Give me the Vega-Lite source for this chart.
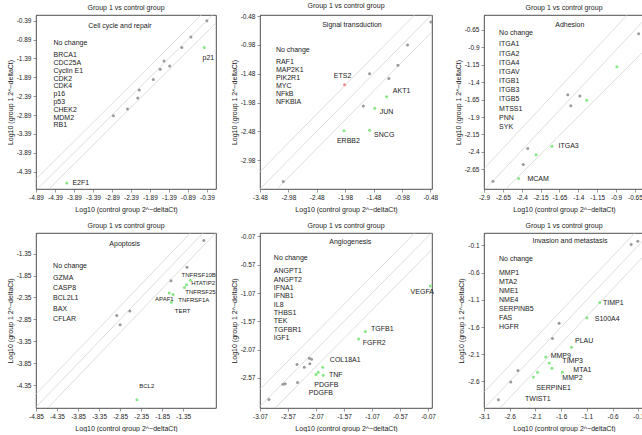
{
"$schema": "https://vega.github.io/schema/vega-lite/v6.json",
"padding": {"left": 5, "top": 1, "right": 0, "bottom": 0},
"config": {
  "font": "Liberation Sans",
  "view": {"stroke": "#222", "strokeWidth": 0.8},
  "axis": {"labelFontSize": 6.5, "titleFontSize": 7, "titleFontWeight": "normal", "tickSize": 3, "labelPadding": 2, "labelOverlap": false, "labelFlush": false, "grid": false, "domain": false, "labelColor": "#222", "titleColor": "#222", "tickColor": "#555", "tickWidth": 0.6},
  "axisX": {"titlePadding": 5, "labelFlush": false},
  "axisY": {"titlePadding": 3},
  "title": {"fontSize": 7, "fontWeight": "normal", "offset": 4, "color": "#222"},
  "text": {"fontSize": 7, "color": "#222"}
},
"datasets": {
  "lines": [
    {"p":1,"k":"u","x":-6,"y":-5.7},{"p":1,"k":"u","x":1,"y":1.3},
    {"p":1,"k":"m","x":-6,"y":-6},{"p":1,"k":"m","x":1,"y":1},
    {"p":1,"k":"l","x":-6,"y":-6.3},{"p":1,"k":"l","x":1,"y":0.7},
    {"p":2,"k":"u","x":-6,"y":-5.7},{"p":2,"k":"u","x":1,"y":1.3},
    {"p":2,"k":"m","x":-6,"y":-6},{"p":2,"k":"m","x":1,"y":1},
    {"p":2,"k":"l","x":-6,"y":-6.3},{"p":2,"k":"l","x":1,"y":0.7},
    {"p":3,"k":"u","x":-3.0,"y":-2.756},{"p":3,"k":"u","x":-0.5,"y":0.144},
    {"p":3,"k":"m","x":-3.0,"y":-3.068},{"p":3,"k":"m","x":-0.5,"y":-0.193},
    {"p":3,"k":"l","x":-3.0,"y":-3.351},{"p":3,"k":"l","x":-0.5,"y":-0.651},
    {"p":4,"k":"u","x":-6,"y":-5.7},{"p":4,"k":"u","x":1,"y":1.3},
    {"p":4,"k":"m","x":-6,"y":-6},{"p":4,"k":"m","x":1,"y":1},
    {"p":4,"k":"l","x":-6,"y":-6.3},{"p":4,"k":"l","x":1,"y":0.7},
    {"p":5,"k":"u","x":-6,"y":-5.7},{"p":5,"k":"u","x":1,"y":1.3},
    {"p":5,"k":"m","x":-6,"y":-6},{"p":5,"k":"m","x":1,"y":1},
    {"p":5,"k":"l","x":-6,"y":-6.3},{"p":5,"k":"l","x":1,"y":0.7},
    {"p":6,"k":"u","x":-6,"y":-5.7},{"p":6,"k":"u","x":1,"y":1.3},
    {"p":6,"k":"m","x":-6,"y":-6},{"p":6,"k":"m","x":1,"y":1},
    {"p":6,"k":"l","x":-6,"y":-6.3},{"p":6,"k":"l","x":1,"y":0.7}
  ],
  "pts": [
    {"p":1,"x":-0.39,"y":-0.39,"s":"n"},{"p":1,"x":-0.81,"y":-0.82,"s":"n"},{"p":1,"x":-1.05,"y":-1.10,"s":"n"},
    {"p":1,"x":-1.52,"y":-1.46,"s":"n"},{"p":1,"x":-1.37,"y":-1.59,"s":"n"},{"p":1,"x":-1.62,"y":-1.68,"s":"n"},
    {"p":1,"x":-1.80,"y":-1.95,"s":"n"},{"p":1,"x":-2.17,"y":-2.23,"s":"n"},{"p":1,"x":-2.21,"y":-2.44,"s":"n"},
    {"p":1,"x":-2.48,"y":-2.73,"s":"n"},{"p":1,"x":-2.85,"y":-2.91,"s":"n"},
    {"p":1,"x":-0.46,"y":-1.10,"s":"d","g":"p21","lx":-0.505,"ly":-1.39},
    {"p":1,"x":-4.08,"y":-4.69,"s":"d","g":"E2F1","lx":-3.93,"ly":-4.69},

    {"p":2,"x":-0.47,"y":-0.58,"s":"n"},{"p":2,"x":-0.88,"y":-0.98,"s":"n"},{"p":2,"x":-1.05,"y":-1.33,"s":"n"},
    {"p":2,"x":-1.55,"y":-1.48,"s":"n"},{"p":2,"x":-1.21,"y":-1.56,"s":"n"},{"p":2,"x":-1.66,"y":-2.04,"s":"n"},
    {"p":2,"x":-3.07,"y":-3.35,"s":"n"},
    {"p":2,"x":-1.99,"y":-1.67,"s":"u","g":"ETS2","lx":-2.18,"ly":-1.52},
    {"p":2,"x":-1.25,"y":-1.88,"s":"d","g":"AKT1","lx":-1.14,"ly":-1.785},
    {"p":2,"x":-1.46,"y":-2.08,"s":"d","g":"JUN","lx":-1.37,"ly":-2.15},
    {"p":2,"x":-2.00,"y":-2.47,"s":"d","g":"ERBB2","lx":-2.125,"ly":-2.64},
    {"p":2,"x":-1.55,"y":-2.46,"s":"d","g":"SNCG","lx":-1.47,"ly":-2.54},

    {"p":3,"x":-0.85,"y":-0.71,"s":"n"},{"p":3,"x":-1.79,"y":-1.58,"s":"n"},{"p":3,"x":-1.63,"y":-1.60,"s":"n"},
    {"p":3,"x":-1.75,"y":-1.74,"s":"n"},{"p":3,"x":-2.32,"y":-2.35,"s":"n"},{"p":3,"x":-2.38,"y":-2.58,"s":"n"},
    {"p":3,"x":-2.78,"y":-2.82,"s":"n"},
    {"p":3,"x":-1.14,"y":-1.18,"s":"d"},{"p":3,"x":-1.54,"y":-1.66,"s":"d"},{"p":3,"x":-2.21,"y":-2.44,"s":"d"},
    {"p":3,"x":-2.00,"y":-2.32,"s":"d","g":"ITGA3","lx":-1.913,"ly":-2.317},
    {"p":3,"x":-2.44,"y":-2.78,"s":"d","g":"MCAM","lx":-2.325,"ly":-2.79},

    {"p":4,"x":-0.86,"y":-1.05,"s":"n"},{"p":4,"x":-1.26,"y":-1.66,"s":"n"},{"p":4,"x":-1.64,"y":-1.97,"s":"n"},
    {"p":4,"x":-2.62,"y":-2.66,"s":"n"},{"p":4,"x":-2.93,"y":-2.76,"s":"n"},{"p":4,"x":-2.85,"y":-2.97,"s":"n"},
    {"p":4,"x":-1.18,"y":-1.96,"s":"d","g":"HTATIP2","lx":-1.16,"ly":-2.018},
    {"p":4,"x":-1.27,"y":-2.06,"s":"d","g":"TNFRSF10B","lx":-1.39,"ly":-1.828},
    {"p":4,"x":-1.32,"y":-2.12,"s":"d","g":"TNFRSF25","lx":-1.30,"ly":-2.23},
    {"p":4,"x":-1.68,"y":-2.25,"s":"d","g":"APAF1","lx":-2.018,"ly":-2.383},
    {"p":4,"x":-1.59,"y":-2.28,"s":"d","g":"TNFRSF1A","lx":-1.466,"ly":-2.398},
    {"p":4,"x":-1.63,"y":-2.46,"s":"d","g":"TERT","lx":-1.55,"ly":-2.65},
    {"p":4,"x":-2.45,"y":-4.68,"s":"d","g":"BCL2","lx":-2.394,"ly":-4.364},

    {"p":5,"x":-2.91,"y":-2.95,"s":"n"},{"p":5,"x":-2.66,"y":-2.68,"s":"n"},{"p":5,"x":-2.62,"y":-2.67,"s":"n"},
    {"p":5,"x":-2.40,"y":-2.65,"s":"n"},{"p":5,"x":-2.41,"y":-2.33,"s":"n"},{"p":5,"x":-2.28,"y":-2.38,"s":"n"},
    {"p":5,"x":-2.19,"y":-2.22,"s":"n"},{"p":5,"x":-2.15,"y":-2.24,"s":"n"},{"p":5,"x":-2.18,"y":-2.32,"s":"n"},
    {"p":5,"x":-1.95,"y":-2.38,"s":"d","g":"COL18A1","lx":-1.823,"ly":-2.257},
    {"p":5,"x":-1.94,"y":-2.52,"s":"d","g":"TNF","lx":-1.84,"ly":-2.523},
    {"p":5,"x":-2.03,"y":-2.47,"s":"d","g":"PDGFB","lx":-2.10,"ly":-2.688},
    {"p":5,"x":-2.07,"y":-2.51,"s":"d","g":"PDGFB","lx":-2.199,"ly":-2.842},
    {"p":5,"x":-1.19,"y":-1.75,"s":"d","g":"TGFB1","lx":-1.088,"ly":-1.70},
    {"p":5,"x":-1.31,"y":-1.88,"s":"d","g":"FGFR2","lx":-1.235,"ly":-1.95},
    {"p":5,"x":-0.03,"y":-0.945,"s":"d","g":"VEGFA","lx":-0.382,"ly":-1.051},

    {"p":6,"x":-0.24,"y":-0.08,"s":"n"},{"p":6,"x":-0.11,"y":-0.02,"s":"n"},{"p":6,"x":-1.64,"y":-1.53,"s":"n"},
    {"p":6,"x":-1.77,"y":-1.81,"s":"n"},{"p":6,"x":-2.44,"y":-2.40,"s":"n"},{"p":6,"x":-2.58,"y":-2.61,"s":"n"},
    {"p":6,"x":-2.82,"y":-2.94,"s":"n"},
    {"p":6,"x":-0.85,"y":-1.15,"s":"d","g":"TIMP1","lx":-0.786,"ly":-1.167},
    {"p":6,"x":-1.10,"y":-1.43,"s":"d","g":"S100A4","lx":-0.948,"ly":-1.448},
    {"p":6,"x":-1.40,"y":-1.97,"s":"d","g":"PLAU","lx":-1.331,"ly":-1.856},
    {"p":6,"x":-1.90,"y":-2.15,"s":"d","g":"MMP9","lx":-1.804,"ly":-2.124},
    {"p":6,"x":-1.83,"y":-2.26,"s":"d","g":"TIMP3","lx":-1.577,"ly":-2.234},
    {"p":6,"x":-1.78,"y":-2.36,"s":"d","g":"MMP2","lx":-1.577,"ly":-2.539},
    {"p":6,"x":-1.58,"y":-2.43,"s":"d","g":"MTA1","lx":-1.363,"ly":-2.387},
    {"p":6,"x":-2.06,"y":-2.43,"s":"d","g":"SERPINE1","lx":-2.083,"ly":-2.722},
    {"p":6,"x":-2.14,"y":-2.52,"s":"d","g":"TWIST1","lx":-2.303,"ly":-2.917}
  ],
  "nc": [
    {"p":1,"i":0,"g":"BRCA1"},{"p":1,"i":1,"g":"CDC25A"},{"p":1,"i":2,"g":"Cyclin E1"},{"p":1,"i":3,"g":"CDK2"},{"p":1,"i":4,"g":"CDK4"},
    {"p":1,"i":5,"g":"p16"},{"p":1,"i":6,"g":"p53"},{"p":1,"i":7,"g":"CHEK2"},{"p":1,"i":8,"g":"MDM2"},{"p":1,"i":9,"g":"RB1"},
    {"p":2,"i":0,"g":"RAF1"},{"p":2,"i":1,"g":"MAP2K1"},{"p":2,"i":2,"g":"PIK2R1"},{"p":2,"i":3,"g":"MYC"},{"p":2,"i":4,"g":"NFkB"},{"p":2,"i":5,"g":"NFKBIA"},
    {"p":3,"i":0,"g":"ITGA1"},{"p":3,"i":1,"g":"ITGA2"},{"p":3,"i":2,"g":"ITGA4"},{"p":3,"i":3,"g":"ITGAV"},{"p":3,"i":4,"g":"ITGB1"},
    {"p":3,"i":5,"g":"ITGB3"},{"p":3,"i":6,"g":"ITGB5"},{"p":3,"i":7,"g":"MTSS1"},{"p":3,"i":8,"g":"PNN"},{"p":3,"i":9,"g":"SYK"},
    {"p":4,"i":0,"g":"GZMA"},{"p":4,"i":1,"g":"CASP8"},{"p":4,"i":2,"g":"BCL2L1"},{"p":4,"i":3,"g":"BAX"},{"p":4,"i":4,"g":"CFLAR"},
    {"p":5,"i":0,"g":"ANGPT1"},{"p":5,"i":1,"g":"ANGPT2"},{"p":5,"i":2,"g":"IFNA1"},{"p":5,"i":3,"g":"IFNB1"},{"p":5,"i":4,"g":"IL8"},
    {"p":5,"i":5,"g":"THBS1"},{"p":5,"i":6,"g":"TEK"},{"p":5,"i":7,"g":"TGFBR1"},{"p":5,"i":8,"g":"IGF1"},
    {"p":6,"i":0,"g":"MMP1"},{"p":6,"i":1,"g":"MTA2"},{"p":6,"i":2,"g":"NME1"},{"p":6,"i":3,"g":"NME4"},{"p":6,"i":4,"g":"SERPINB5"},
    {"p":6,"i":5,"g":"FAS"},{"p":6,"i":6,"g":"HGFR"}
  ]
},
"columns": 3,
"bounds": "flush",
"align": "all",
"spacing": {"row": 43, "column": 44},
"concat": [
  {"width": 180, "height": 174, "title": "Group 1 vs control group",
   "resolve": {"scale": {"y": "independent"}},
   "layer": [
    {"layer": [
      {"data": {"name": "lines"}, "transform": [{"filter": "datum.p == 1"}],
       "mark": {"type": "line", "clip": true, "color": "#cfcfcf", "strokeWidth": 0.7},
       "encoding": {
         "x": {"field": "x", "type": "quantitative", "scale": {"domain": [-4.89, -0.15], "nice": false, "zero": false},
               "axis": {"values": [-4.89,-4.39,-3.89,-3.39,-2.89,-2.39,-1.89,-1.39,-0.89,-0.39], "tickCount": 30, "labelOverlap": false, "labelFlush": false, "labelExpr": "replace(format(datum.value, '.2~f'), '−', '-')", "title": "Log10 (control group 2^−deltaCt)"}},
         "y": {"field": "y", "type": "quantitative", "scale": {"domain": [-4.85, -0.24], "nice": false, "zero": false},
               "axis": {"values": [-4.39,-3.89,-3.39,-2.89,-2.39,-1.89,-1.39,-0.89,-0.39], "tickCount": 30, "labelOverlap": false, "labelFlush": false, "labelExpr": "replace(format(datum.value, '.2~f'), '−', '-')", "title": "Log10 (group 1 2^−deltaCt)"}},
         "detail": {"field": "k"}}},
      {"data": {"name": "pts"}, "transform": [{"filter": "datum.p == 1"}],
       "mark": {"type": "circle", "size": 9, "opacity": 1},
       "encoding": {"x": {"field": "x", "type": "quantitative"}, "y": {"field": "y", "type": "quantitative"},
         "color": {"field": "s", "type": "nominal", "scale": {"domain": ["n","d","u"], "range": ["#9a9a9a","#86e886","#f28c8c"]}, "legend": null}}},
      {"data": {"name": "pts"}, "transform": [{"filter": "datum.p == 1 && datum.lx != null"}],
       "mark": {"type": "text", "align": "left", "baseline": "middle"},
       "encoding": {"x": {"field": "lx", "type": "quantitative"}, "y": {"field": "ly", "type": "quantitative"}, "text": {"field": "g"}}},
      {"data": {"values": [{}]}, "mark": {"type": "text", "align": "center", "baseline": "middle"},
       "encoding": {"x": {"datum": -2.68}, "y": {"datum": -0.52}, "text": {"value": "Cell cycle and repair"}}},
      {"data": {"values": [{}]}, "mark": {"type": "text", "align": "left", "baseline": "middle"},
       "encoding": {"x": {"datum": -4.43}, "y": {"datum": -0.97}, "text": {"value": "No change"}}}
    ]},
    {"data": {"name": "nc"}, "transform": [{"filter": "datum.p == 1"}],
     "mark": {"type": "text", "align": "left", "baseline": "middle"},
     "encoding": {"x": {"datum": -4.43}, "y": {"field": "i", "type": "quantitative", "scale": {"domain": [-5.11, 17.11], "reverse": true, "nice": false, "zero": false}, "axis": null}, "text": {"field": "g"}}}
   ]},

  {"width": 172, "height": 174, "title": "Group 1 vs control group",
   "resolve": {"scale": {"y": "independent"}},
   "layer": [
    {"layer": [
      {"data": {"name": "lines"}, "transform": [{"filter": "datum.p == 2"}],
       "mark": {"type": "line", "clip": true, "color": "#cfcfcf", "strokeWidth": 0.7},
       "encoding": {
         "x": {"field": "x", "type": "quantitative", "scale": {"domain": [-3.48, -0.45], "nice": false, "zero": false},
               "axis": {"values": [-3.48,-2.98,-2.48,-1.98,-1.48,-0.98,-0.48], "tickCount": 30, "labelOverlap": false, "labelFlush": false, "labelExpr": "replace(format(datum.value, '.2~f'), '−', '-')", "title": "Log10 (control group 2^−deltaCt)"}},
         "y": {"field": "y", "type": "quantitative", "scale": {"domain": [-3.48, -0.46], "nice": false, "zero": false},
               "axis": {"values": [-2.98,-2.48,-1.98,-1.48,-0.98,-0.48], "tickCount": 30, "labelOverlap": false, "labelFlush": false, "labelExpr": "replace(format(datum.value, '.2~f'), '−', '-')", "title": "Log10 (group 1 2^−deltaCt)"}},
         "detail": {"field": "k"}}},
      {"data": {"name": "pts"}, "transform": [{"filter": "datum.p == 2"}],
       "mark": {"type": "circle", "size": 9, "opacity": 1},
       "encoding": {"x": {"field": "x", "type": "quantitative"}, "y": {"field": "y", "type": "quantitative"},
         "color": {"field": "s", "type": "nominal", "scale": {"domain": ["n","d","u"], "range": ["#9a9a9a","#86e886","#f28c8c"]}, "legend": null}}},
      {"data": {"name": "pts"}, "transform": [{"filter": "datum.p == 2 && datum.lx != null"}],
       "mark": {"type": "text", "align": "left", "baseline": "middle"},
       "encoding": {"x": {"field": "lx", "type": "quantitative"}, "y": {"field": "ly", "type": "quantitative"}, "text": {"field": "g"}}},
      {"data": {"values": [{}]}, "mark": {"type": "text", "align": "center", "baseline": "middle"},
       "encoding": {"x": {"datum": -1.86}, "y": {"datum": -0.625}, "text": {"value": "Signal transduction"}}},
      {"data": {"values": [{}]}, "mark": {"type": "text", "align": "left", "baseline": "middle"},
       "encoding": {"x": {"datum": -3.20}, "y": {"datum": -1.066}, "text": {"value": "No change"}}}
    ]},
    {"data": {"name": "nc"}, "transform": [{"filter": "datum.p == 2"}],
     "mark": {"type": "text", "align": "left", "baseline": "middle"},
     "encoding": {"x": {"datum": -3.20}, "y": {"field": "i", "type": "quantitative", "scale": {"domain": [-5.92, 15.83], "reverse": true, "nice": false, "zero": false}, "axis": null}, "text": {"field": "g"}}}
   ]},

  {"width": 160, "height": 174, "title": "Group 1 vs control group",
   "resolve": {"scale": {"y": "independent"}},
   "layer": [
    {"layer": [
      {"data": {"name": "lines"}, "transform": [{"filter": "datum.p == 3"}],
       "mark": {"type": "line", "clip": true, "color": "#cfcfcf", "strokeWidth": 0.7},
       "encoding": {
         "x": {"field": "x", "type": "quantitative", "scale": {"domain": [-2.9, -0.78], "nice": false, "zero": false},
               "axis": {"values": [-2.9,-2.65,-2.4,-2.15,-1.9,-1.65,-1.4,-1.15,-0.9], "tickCount": 30, "labelOverlap": false, "labelFlush": false, "labelExpr": "replace(format(datum.value > -2 ? datum.value + 0.25 : datum.value, '.2~f'), '−', '-')", "title": "Log10 (control group 2^−deltaCt)"}},
         "y": {"field": "y", "type": "quantitative", "scale": {"domain": [-2.93, -0.44], "nice": false, "zero": false},
               "axis": {"values": [-2.65,-2.4,-2.15,-1.9,-1.65,-1.4,-1.15,-0.9,-0.65], "tickCount": 30, "labelOverlap": false, "labelFlush": false, "labelExpr": "replace(format(datum.value, '.2~f'), '−', '-')", "title": "Log10 (group 1 2^−deltaCt)"}},
         "detail": {"field": "k"}}},
      {"data": {"name": "pts"}, "transform": [{"filter": "datum.p == 3"}],
       "mark": {"type": "circle", "size": 9, "opacity": 1},
       "encoding": {"x": {"field": "x", "type": "quantitative"}, "y": {"field": "y", "type": "quantitative"},
         "color": {"field": "s", "type": "nominal", "scale": {"domain": ["n","d","u"], "range": ["#9a9a9a","#86e886","#f28c8c"]}, "legend": null}}},
      {"data": {"name": "pts"}, "transform": [{"filter": "datum.p == 3 && datum.lx != null"}],
       "mark": {"type": "text", "align": "left", "baseline": "middle"},
       "encoding": {"x": {"field": "lx", "type": "quantitative"}, "y": {"field": "ly", "type": "quantitative"}, "text": {"field": "g"}}},
      {"data": {"values": [{}]}, "mark": {"type": "text", "align": "center", "baseline": "middle"},
       "encoding": {"x": {"datum": -1.763}, "y": {"datum": -0.579}, "text": {"value": "Adhesion"}}},
      {"data": {"values": [{}]}, "mark": {"type": "text", "align": "left", "baseline": "middle"},
       "encoding": {"x": {"datum": -2.70}, "y": {"datum": -0.693}, "text": {"value": "No change"}}}
    ]},
    {"data": {"name": "nc"}, "transform": [{"filter": "datum.p == 3"}],
     "mark": {"type": "text", "align": "left", "baseline": "middle"},
     "encoding": {"x": {"datum": -2.70}, "y": {"field": "i", "type": "quantitative", "scale": {"domain": [-3.19, 15.74], "reverse": true, "nice": false, "zero": false}, "axis": null}, "text": {"field": "g"}}}
   ]},

  {"width": 180, "height": 175, "title": "Group 1 vs control group",
   "resolve": {"scale": {"y": "independent"}},
   "layer": [
    {"layer": [
      {"data": {"name": "lines"}, "transform": [{"filter": "datum.p == 4"}],
       "mark": {"type": "line", "clip": true, "color": "#cfcfcf", "strokeWidth": 0.7},
       "encoding": {
         "x": {"field": "x", "type": "quantitative", "scale": {"domain": [-4.85, -0.57], "nice": false, "zero": false},
               "axis": {"values": [-4.85,-4.35,-3.85,-3.35,-2.85,-2.35,-1.85,-1.35], "tickCount": 30, "labelOverlap": false, "labelFlush": false, "labelExpr": "replace(format(datum.value, '.2~f'), '−', '-')", "title": "Log10 (control group 2^−deltaCt)"}},
         "y": {"field": "y", "type": "quantitative", "scale": {"domain": [-4.87, -0.88], "nice": false, "zero": false},
               "axis": {"values": [-4.35,-3.85,-3.35,-2.85,-2.35,-1.85,-1.35], "tickCount": 30, "labelOverlap": false, "labelFlush": false, "labelExpr": "replace(format(datum.value, '.2~f'), '−', '-')", "title": "Log10 (group 1 2^−deltaCt)"}},
         "detail": {"field": "k"}}},
      {"data": {"name": "pts"}, "transform": [{"filter": "datum.p == 4"}],
       "mark": {"type": "circle", "size": 9, "opacity": 1},
       "encoding": {"x": {"field": "x", "type": "quantitative"}, "y": {"field": "y", "type": "quantitative"},
         "color": {"field": "s", "type": "nominal", "scale": {"domain": ["n","d","u"], "range": ["#9a9a9a","#86e886","#f28c8c"]}, "legend": null}}},
      {"data": {"name": "pts"}, "transform": [{"filter": "datum.p == 4 && datum.lx != null"}],
       "mark": {"type": "text", "align": "left", "baseline": "middle", "fontSize": 6},
       "encoding": {"x": {"field": "lx", "type": "quantitative"}, "y": {"field": "ly", "type": "quantitative"}, "text": {"field": "g"}}},
      {"data": {"values": [{}]}, "mark": {"type": "text", "align": "center", "baseline": "middle"},
       "encoding": {"x": {"datum": -2.74}, "y": {"datum": -1.122}, "text": {"value": "Apoptosis"}}},
      {"data": {"values": [{}]}, "mark": {"type": "text", "align": "left", "baseline": "middle"},
       "encoding": {"x": {"datum": -4.443}, "y": {"datum": -1.639}, "text": {"value": "No change"}}}
    ]},
    {"data": {"name": "nc"}, "transform": [{"filter": "datum.p == 4"}],
     "mark": {"type": "text", "align": "left", "baseline": "middle"},
     "encoding": {"x": {"datum": -4.443}, "y": {"field": "i", "type": "quantitative", "scale": {"domain": [-4.43, 12.78], "reverse": true, "nice": false, "zero": false}, "axis": null}, "text": {"field": "g"}}}
   ]},

  {"width": 172, "height": 175, "title": "Group 1 vs control group",
   "resolve": {"scale": {"y": "independent"}},
   "layer": [
    {"layer": [
      {"data": {"name": "lines"}, "transform": [{"filter": "datum.p == 5"}],
       "mark": {"type": "line", "clip": true, "color": "#cfcfcf", "strokeWidth": 0.7},
       "encoding": {
         "x": {"field": "x", "type": "quantitative", "scale": {"domain": [-3.07, 0.0], "nice": false, "zero": false},
               "axis": {"values": [-3.07,-2.57,-2.07,-1.57,-1.07,-0.57,-0.07], "tickCount": 30, "labelOverlap": false, "labelFlush": false, "labelExpr": "replace(format(datum.value, '.2~f'), '−', '-')", "title": "Log10 (control group 2^−deltaCt)"}},
         "y": {"field": "y", "type": "quantitative", "scale": {"domain": [-3.10, -0.01], "nice": false, "zero": false},
               "axis": {"values": [-2.57,-2.07,-1.57,-1.07,-0.57,-0.07], "tickCount": 30, "labelOverlap": false, "labelFlush": false, "labelExpr": "replace(format(datum.value, '.2~f'), '−', '-')", "title": "Log10 (group 1 2^−deltaCt)"}},
         "detail": {"field": "k"}}},
      {"data": {"name": "pts"}, "transform": [{"filter": "datum.p == 5"}],
       "mark": {"type": "circle", "size": 9, "opacity": 1},
       "encoding": {"x": {"field": "x", "type": "quantitative"}, "y": {"field": "y", "type": "quantitative"},
         "color": {"field": "s", "type": "nominal", "scale": {"domain": ["n","d","u"], "range": ["#9a9a9a","#86e886","#f28c8c"]}, "legend": null}}},
      {"data": {"name": "pts"}, "transform": [{"filter": "datum.p == 5 && datum.lx != null"}],
       "mark": {"type": "text", "align": "left", "baseline": "middle"},
       "encoding": {"x": {"field": "lx", "type": "quantitative"}, "y": {"field": "ly", "type": "quantitative"}, "text": {"field": "g"}}},
      {"data": {"values": [{}]}, "mark": {"type": "text", "align": "center", "baseline": "middle"},
       "encoding": {"x": {"datum": -1.458}, "y": {"datum": -0.176}, "text": {"value": "Angiogenesis"}}},
      {"data": {"values": [{}]}, "mark": {"type": "text", "align": "left", "baseline": "middle"},
       "encoding": {"x": {"datum": -2.823}, "y": {"datum": -0.454}, "text": {"value": "No change"}}}
    ]},
    {"data": {"name": "nc"}, "transform": [{"filter": "datum.p == 5"}],
     "mark": {"type": "text", "align": "left", "baseline": "middle"},
     "encoding": {"x": {"datum": -2.823}, "y": {"field": "i", "type": "quantitative", "scale": {"domain": [-4.61, 16.39], "reverse": true, "nice": false, "zero": false}, "axis": null}, "text": {"field": "g"}}}
   ]},

  {"width": 160, "height": 175, "title": "Group 1 vs control group",
   "resolve": {"scale": {"y": "independent"}},
   "layer": [
    {"layer": [
      {"data": {"name": "lines"}, "transform": [{"filter": "datum.p == 6"}],
       "mark": {"type": "line", "clip": true, "color": "#cfcfcf", "strokeWidth": 0.7},
       "encoding": {
         "x": {"field": "x", "type": "quantitative", "scale": {"domain": [-3.1, 0.01], "nice": false, "zero": false},
               "axis": {"values": [-3.1,-2.6,-2.1,-1.6,-1.1,-0.6,-0.1], "tickCount": 30, "labelOverlap": false, "labelFlush": false, "labelExpr": "replace(format(datum.value, '.2~f'), '−', '-')", "title": "Log10 (control group 2^−deltaCt)"}},
         "y": {"field": "y", "type": "quantitative", "scale": {"domain": [-3.09, 0.13], "nice": false, "zero": false},
               "axis": {"values": [-2.6,-2.1,-1.6,-1.1,-0.6,-0.1], "tickCount": 30, "labelOverlap": false, "labelFlush": false, "labelExpr": "replace(format(datum.value, '.2~f'), '−', '-')", "title": "Log10 (group 1 2^−deltaCt)"}},
         "detail": {"field": "k"}}},
      {"data": {"name": "pts"}, "transform": [{"filter": "datum.p == 6"}],
       "mark": {"type": "circle", "size": 9, "opacity": 1},
       "encoding": {"x": {"field": "x", "type": "quantitative"}, "y": {"field": "y", "type": "quantitative"},
         "color": {"field": "s", "type": "nominal", "scale": {"domain": ["n","d","u"], "range": ["#9a9a9a","#86e886","#f28c8c"]}, "legend": null}}},
      {"data": {"name": "pts"}, "transform": [{"filter": "datum.p == 6 && datum.lx != null"}],
       "mark": {"type": "text", "align": "left", "baseline": "middle"},
       "encoding": {"x": {"field": "lx", "type": "quantitative"}, "y": {"field": "ly", "type": "quantitative"}, "text": {"field": "g"}}},
      {"data": {"values": [{}]}, "mark": {"type": "text", "align": "center", "baseline": "middle"},
       "encoding": {"x": {"datum": -1.428}, "y": {"datum": -0.0098}, "text": {"value": "Invasion and metastasis"}}},
      {"data": {"values": [{}]}, "mark": {"type": "text", "align": "left", "baseline": "middle"},
       "encoding": {"x": {"datum": -2.808}, "y": {"datum": -0.344}, "text": {"value": "No change"}}}
    ]},
    {"data": {"name": "nc"}, "transform": [{"filter": "datum.p == 6"}],
     "mark": {"type": "text", "align": "left", "baseline": "middle"},
     "encoding": {"x": {"datum": -2.808}, "y": {"field": "i", "type": "quantitative", "scale": {"domain": [-4.34, 14.86], "reverse": true, "nice": false, "zero": false}, "axis": null}, "text": {"field": "g"}}}
   ]}
]
}
